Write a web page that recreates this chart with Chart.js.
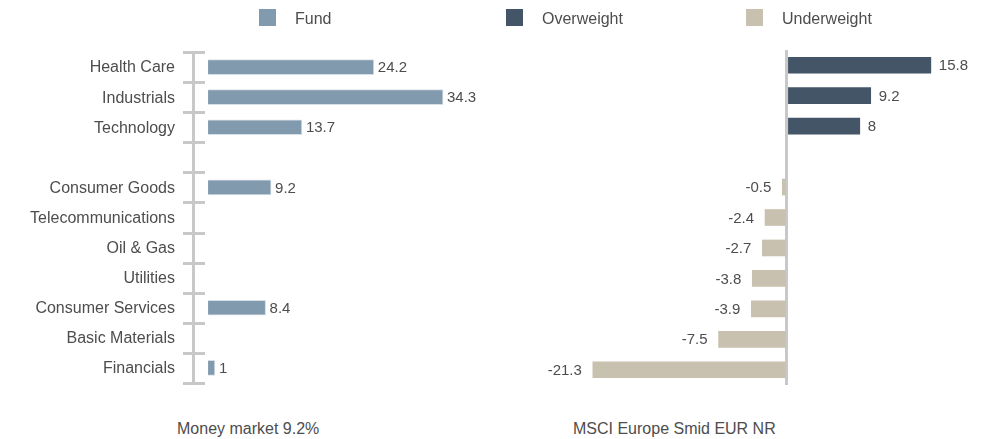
<!DOCTYPE html>
<html>
<head>
<meta charset="utf-8">
<script src="https://cdn.jsdelivr.net/npm/chart.js@4.4.0/dist/chart.umd.min.js"></script>
<style>
  body { margin: 0; background: #fff; font-family: "Liberation Sans", Arial, sans-serif; color: #4d4d4d; }
  #wrap { position: relative; width: 986px; height: 439px; overflow: hidden; }
  .pane { position: absolute; top: 0; height: 400px; }
  .swatch { position: absolute; top: 9px; width: 17px; height: 17px; }
  .legend-text, .note { position: absolute; font-size: 16px; line-height: 20px; white-space: nowrap; }
  .legend-text { top: 9px; }
  .note { top: 419px; }
</style>
</head>
<body>
<div id="wrap">
  <div class="pane" style="left:0;width:490px;"><canvas id="fund-chart" width="490" height="400"></canvas></div>
  <div class="pane" style="left:490px;width:496px;"><canvas id="rel-chart" width="496" height="400"></canvas></div>
</div>
<script>
const categories = ["Health Care", "Industrials", "Technology", "", "Consumer Goods",
  "Telecommunications", "Oil & Gas", "Utilities", "Consumer Services", "Basic Materials", "Financials"];
const fundValues = [24.2, 34.3, 13.7, null, 9.2, null, null, null, 8.4, null, 1];
const relativeValues = [15.8, 9.2, 8, null, -0.5, -2.4, -2.7, -3.8, -3.9, -7.5, -21.3];
const legendLabels = ["Fund", "Overweight", "Underweight"];
const notes = ["Money market 9.2%", "MSCI Europe Smid EUR NR"];

const FONT = "'Liberation Sans', Arial, sans-serif";
const TEXT = "#4d4d4d";
const AXIS = "#c8c8c8";
const FUND = "#829aae";
const OVER = "#435566";
const UNDER = "#c9c1b0";

// legend + footnotes as plain text
const wrap = document.getElementById("wrap");
const legendColors = [FUND, OVER, UNDER];
const legendX = [259, 506, 746];
legendLabels.forEach((lbl, i) => {
  const sw = document.createElement("div");
  sw.className = "swatch";
  sw.style.left = legendX[i] + "px";
  sw.style.background = legendColors[i];
  wrap.appendChild(sw);
  const t = document.createElement("div");
  t.className = "legend-text";
  t.style.left = (legendX[i] + 36) + "px";
  t.textContent = lbl;
  wrap.appendChild(t);
});
const noteX = [177, 573];
notes.forEach((n, i) => {
  const d = document.createElement("div");
  d.className = "note";
  d.style.left = noteX[i] + "px";
  d.textContent = n;
  wrap.appendChild(d);
});

// value labels next to bar ends
const valueLabels = {
  id: "valueLabels",
  afterDatasetsDraw(chart, args, opts) {
    const ctx = chart.ctx;
    const data = chart.data.datasets[0].data;
    ctx.save();
    ctx.font = "15px " + FONT;
    ctx.fillStyle = TEXT;
    ctx.textBaseline = "middle";
    chart.getDatasetMeta(0).data.forEach((bar, i) => {
      const v = data[i];
      if (v === null) return;
      if (v >= 0) {
        ctx.textAlign = "left";
        ctx.fillText(String(v), bar.x + opts.gap, bar.y + 1);
      } else {
        ctx.textAlign = "right";
        ctx.fillText(String(v), bar.x - opts.negGap, bar.y + 1);
      }
    });
    ctx.restore();
  }
};

// short tick marks across the left axis at row boundaries
const rowTicks = {
  id: "rowTicks",
  afterDraw(chart) {
    const y = chart.scales.y;
    const x0 = chart.chartArea.left;
    const ctx = chart.ctx;
    ctx.save();
    ctx.strokeStyle = AXIS;
    ctx.lineWidth = 3;
    for (let i = 0; i <= chart.data.labels.length; i++) {
      const py = Math.round(y.getPixelForValue(i - 0.5)) + 0.5;
      ctx.beginPath();
      ctx.moveTo(x0 - 10, py);
      ctx.lineTo(x0 + 12, py);
      ctx.stroke();
    }
    ctx.restore();
  }
};

new Chart(document.getElementById("fund-chart"), {
  type: "bar",
  data: {
    labels: categories,
    datasets: [{
      label: "Fund",
      data: fundValues,
      backgroundColor: FUND,
      borderColor: "#d6dee6",
      borderWidth: 1,
      borderSkipped: "left",
      barThickness: 15,
    }],
  },
  options: {
    indexAxis: "y",
    responsive: false,
    animation: false,
    devicePixelRatio: 1,
    layout: { padding: { top: 52, bottom: 17, left: 0, right: 10 } },
    plugins: {
      legend: { display: false },
      tooltip: { enabled: false },
      valueLabels: { gap: 4, negGap: 4 },
    },
    scales: {
      x: { display: false, min: -2.2, max: 39.7 },
      y: {
        afterFit(s) {
          s.width = 193;
          s.paddingTop = 0;
          s.paddingBottom = 0;
        },
        grid: { display: false },
        border: { display: true, color: AXIS, width: 3 },
        ticks: { color: TEXT, font: { size: 16, family: FONT }, padding: 10, labelOffset: 1, autoSkip: false },
      },
    },
  },
  plugins: [valueLabels, rowTicks],
});

new Chart(document.getElementById("rel-chart"), {
  type: "bar",
  data: {
    labels: categories,
    datasets: [{
      label: "Relative",
      data: relativeValues,
      backgroundColor: relativeValues.map(v => (v >= 0 ? OVER : UNDER)),
      barThickness: 16,
    }],
  },
  options: {
    indexAxis: "y",
    responsive: false,
    animation: false,
    devicePixelRatio: 1,
    layout: { padding: { top: 50, bottom: 15, left: 50, right: 26 } },
    plugins: {
      legend: { display: false },
      tooltip: { enabled: false },
      valueLabels: { gap: 8, negGap: 11 },
    },
    scales: {
      x: {
        min: -27.1,
        max: 19,
        afterBuildTicks(s) { s.ticks = [{ value: 0 }]; },
        ticks: { display: false },
        border: { display: false },
        grid: { drawTicks: false, lineWidth: 3, color: AXIS },
      },
      y: { display: false },
    },
  },
  plugins: [valueLabels],
});
</script>
</body>
</html>
